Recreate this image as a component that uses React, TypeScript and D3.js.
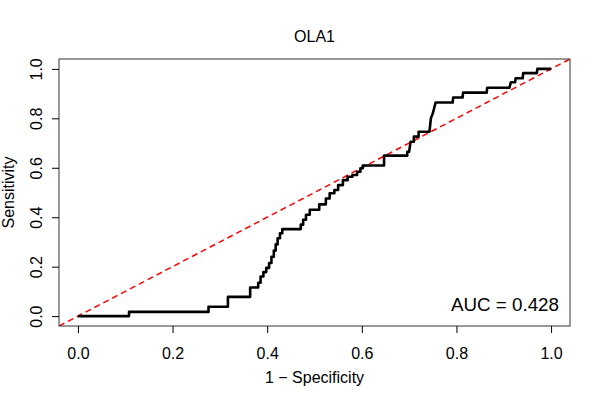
import React, {useEffect, useRef} from "react";
import * as d3 from "d3";

// ROC curve points (1 - specificity, sensitivity)
const fpr = [0, 0.108, 0.108, 0.276, 0.276, 0.317, 0.317, 0.364, 0.364, 0.381,
    0.381, 0.386, 0.386, 0.392, 0.392, 0.398, 0.398, 0.404, 0.404, 0.409, 0.409, 0.414, 0.414, 0.418,
    0.418, 0.422, 0.422, 0.427, 0.427, 0.432, 0.432, 0.471,
    0.471, 0.476, 0.476, 0.482, 0.482, 0.49, 0.49, 0.51, 0.51, 0.524, 0.524, 0.532, 0.532, 0.542,
    0.542, 0.55, 0.55, 0.56, 0.56, 0.57, 0.57, 0.58, 0.58, 0.59, 0.59, 0.597, 0.597, 0.602, 0.602,
    0.647, 0.647, 0.696, 0.696, 0.70, 0.703, 0.71, 0.71, 0.72, 0.72, 0.743, 0.746, 0.75, 0.756,
    0.792, 0.793, 0.813, 0.814, 0.864, 0.865, 0.912, 0.915, 0.924, 0.925, 0.94, 0.941, 0.97, 0.971, 1.0]
const tpr = [0, 0, 0.017, 0.017, 0.038, 0.038, 0.078, 0.078, 0.116, 0.116,
    0.135, 0.135, 0.16, 0.16, 0.178, 0.178, 0.195, 0.195, 0.215, 0.215, 0.24, 0.24, 0.265, 0.265,
    0.29, 0.29, 0.315, 0.315, 0.335, 0.335, 0.352, 0.352,
    0.37, 0.37, 0.39, 0.39, 0.41, 0.41, 0.43, 0.43, 0.452, 0.452, 0.476, 0.476, 0.497, 0.497,
    0.51, 0.51, 0.53, 0.53, 0.55, 0.55, 0.564, 0.564, 0.571, 0.571, 0.584, 0.584, 0.598, 0.598, 0.609,
    0.609, 0.649, 0.649, 0.665, 0.665, 0.705, 0.705, 0.726, 0.726, 0.746, 0.746, 0.80, 0.82, 0.864,
    0.864, 0.884, 0.884, 0.904, 0.904, 0.924, 0.924, 0.946, 0.946, 0.962, 0.962, 0.983, 0.983, 1.0, 1.0]

const ticks = [0, 0.2, 0.4, 0.6, 0.8, 1.0]
const title = "OLA1"
const aucLabel = "AUC = 0.428"

const font = "'Liberation Sans', Arial, Helvetica, sans-serif"

const App = () => {
    const svgRef = useRef(null)

    useEffect(() => {
        const svg = d3.select(svgRef.current)
        svg.selectAll("*").remove()

        const left = 59, right = 570, top = 59, bottom = 326
        // R style: 4% padding around [0, 1]
        const x = d3.scaleLinear().domain([-0.04, 1.04]).range([left, right])
        const y = d3.scaleLinear().domain([-0.04, 1.04]).range([bottom, top])

        const clip = svg.append("clipPath").attr("id", "plotClip")
        clip.append("rect").attr("x", left).attr("y", top)
            .attr("width", right - left).attr("height", bottom - top)

        // diagonal reference line
        svg.append("line")
            .attr("clip-path", "url(#plotClip)")
            .attr("x1", x(-0.04)).attr("y1", y(-0.04))
            .attr("x2", x(1.04)).attr("y2", y(1.04))
            .attr("stroke", "#ff0000")
            .attr("stroke-width", 1.5)
            .attr("stroke-dasharray", "6,4")

        const pts: [number, number][] = fpr.map((f, i) => [f, tpr[i]])
        const rocLine = d3.line<[number, number]>()
            .x(d => x(d[0]))
            .y(d => y(d[1]))

        svg.append("path")
            .datum(pts)
            .attr("d", rocLine)
            .attr("fill", "none")
            .attr("stroke", "#000")
            .attr("stroke-width", 2.6)
            .attr("stroke-linejoin", "round")

        // box
        svg.append("rect")
            .attr("x", left).attr("y", top)
            .attr("width", right - left).attr("height", bottom - top)
            .attr("fill", "none").attr("stroke", "#333").attr("stroke-width", 1)

        const xAxis = d3.axisBottom(x).tickValues(ticks).tickSize(7).tickSizeOuter(0)
            .tickFormat(d => d3.format(".1f")(d as number))
        const gx = svg.append("g").attr("transform", `translate(0,${bottom})`).call(xAxis)
        gx.select(".domain").remove()
        gx.selectAll("text")
            .attr("y", 33).attr("dy", 0)
            .style("font-size", "16px").style("font-family", font).attr("fill", "#000")

        const yAxis = d3.axisLeft(y).tickValues(ticks).tickSize(7).tickSizeOuter(0)
            .tickFormat(d => d3.format(".1f")(d as number))
        const gy = svg.append("g").attr("transform", `translate(${left},0)`).call(yAxis)
        gy.select(".domain").remove()
        gy.selectAll("text")
            .attr("transform", "rotate(-90)")
            .attr("x", 0).attr("y", -17).attr("dy", 0)
            .attr("text-anchor", "middle")
            .style("font-size", "16px").style("font-family", font).attr("fill", "#000")

        svg.append("text")
            .attr("x", (left + right) / 2).attr("y", 42)
            .attr("text-anchor", "middle")
            .style("font-size", "16px").style("font-family", font)
            .text(title)

        svg.append("text")
            .attr("x", (left + right) / 2).attr("y", 383)
            .attr("text-anchor", "middle")
            .style("font-size", "16px").style("font-family", font)
            .text("1 \u2212 Specificity")

        svg.append("text")
            .attr("transform", `translate(14,${(top + bottom) / 2}) rotate(-90)`)
            .attr("text-anchor", "middle")
            .style("font-size", "16px").style("font-family", font)
            .text("Sensitivity")

        svg.append("text")
            .attr("x", 559).attr("y", 311)
            .attr("text-anchor", "end")
            .style("font-size", "18.8px").style("font-family", font)
            .text(aucLabel)
    }, [])

    return (
        <svg ref={svgRef} width={600} height={400}
             style={{position: "absolute", left: 0, top: 0, background: "#fff"}}/>
    );
};

export default App;
